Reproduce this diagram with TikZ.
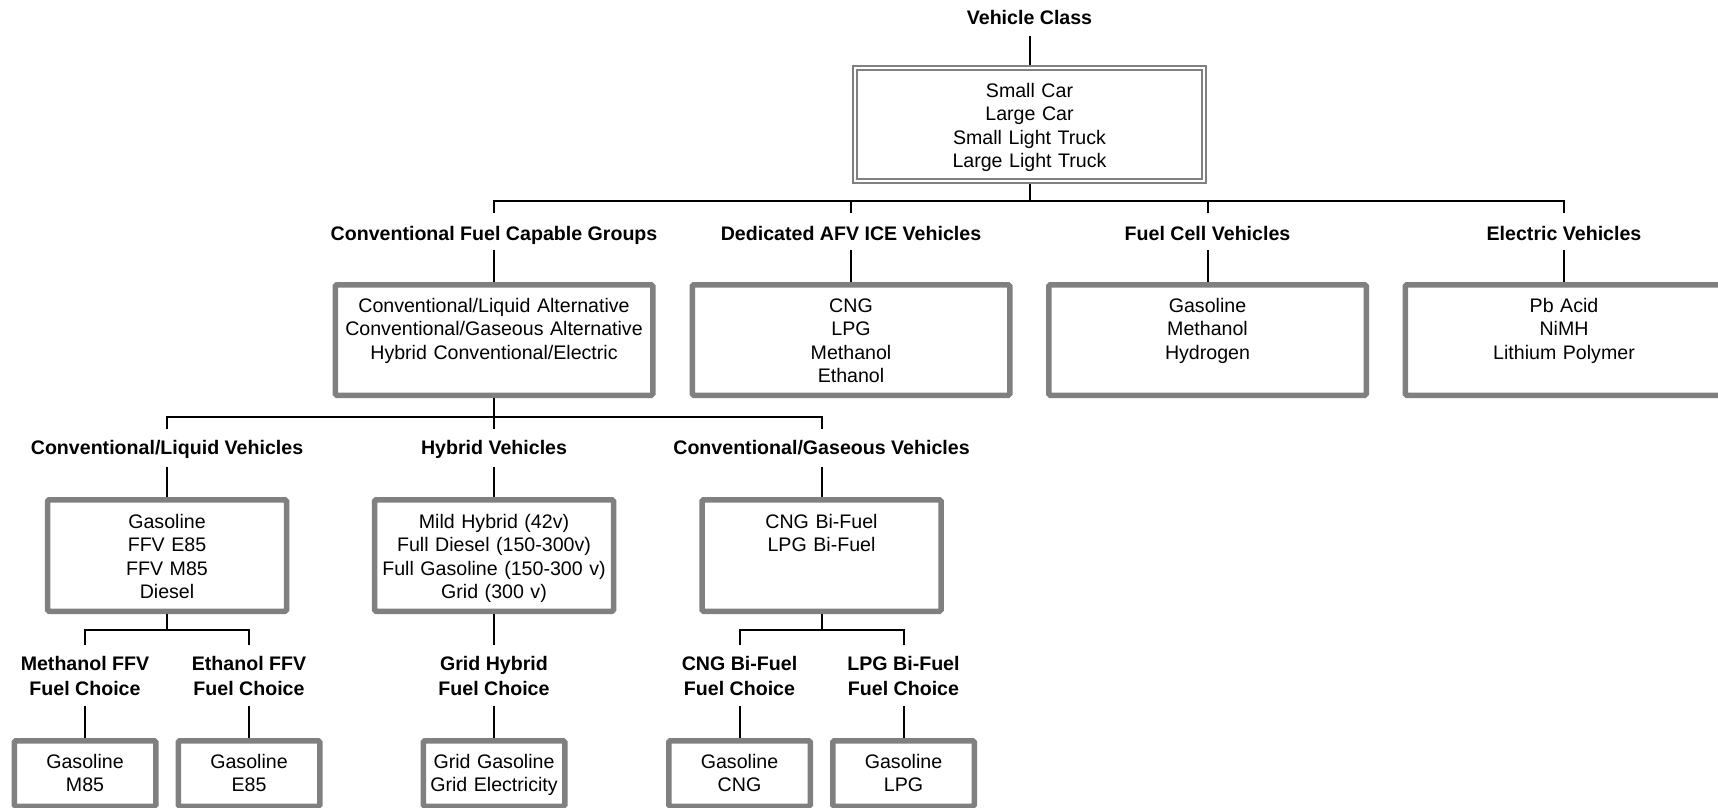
\documentclass[tikz,border=0pt]{standalone}
\usepackage{fontspec}
\setmainfont{Liberation Sans}
\definecolor{boxgray}{HTML}{808080}
\tikzset{
  conn/.style={line width=2pt, black},
  boxbase/.style={fill=white, inner sep=0pt, align=center, anchor=north,
    font=\fontsize{19.6}{23.6}\selectfont},
  box/.style={boxbase, draw=boxgray, line width=5.5pt, rounded corners=1.5pt, outer sep=2.75pt},
  topbox/.style={boxbase, draw=boxgray, line width=2pt, double=white, double distance=2pt, outer sep=3pt},
  bigbox/.style={box, text width=317.5pt, text height=27.25pt, text depth=83.25pt},
  midbox/.style={box, text width=239pt, text height=28.25pt, text depth=83.25pt},
  smallbox/.style={box, text width=141.5pt, text height=27.25pt, text depth=38.25pt},
  lab/.style={font=\bfseries\fontsize{19.6}{25}\selectfont, inner sep=0pt, outer sep=0pt, align=center, anchor=base},
  labA/.style={lab, text height=27pt, text depth=10pt},
  labB/.style={lab, text height=25pt, text depth=13pt},
  labC/.style={lab, text height=50pt, text depth=11pt},
}
\begin{document}
\begin{tikzpicture}[x=1pt, y=-1pt]
\useasboundingbox (0,0) rectangle (1718,807);

% top
\node[lab, text height=14pt, text depth=12pt] (vc) at (1029.5,24) {Vehicle Class};
\node[topbox, text width=349pt, text height=29pt, text depth=84pt] (top) at (1029.5,65)
  {Small Car\\Large Car\\Small Light Truck\\Large Light Truck};

% level 2
\node[labA] (l2a) at (494,240) {Conventional Fuel Capable Groups};
\node[labA] (l2b) at (851,240) {Dedicated AFV ICE Vehicles};
\node[labA] (l2c) at (1207.5,240) {Fuel Cell Vehicles};
\node[labA] (l2d) at (1564,240) {Electric Vehicles};

\node[bigbox] (b2a) at (494,282) {Conventional/Liquid Alternative\\Conventional/Gaseous Alternative\\Hybrid Conventional/Electric};
\node[bigbox] (b2b) at (851,282) {CNG\\LPG\\Methanol\\Ethanol};
\node[bigbox] (b2c) at (1207.5,282) {Gasoline\\Methanol\\Hydrogen};
\node[bigbox] (b2d) at (1564,282) {Pb Acid\\NiMH\\Lithium Polymer};

% level 3
\node[labB] (l3a) at (167,454) {Conventional/Liquid Vehicles};
\node[labB] (l3b) at (494,454) {Hybrid Vehicles};
\node[labB] (l3c) at (821.5,454) {Conventional/Gaseous Vehicles};

\node[midbox] (b3a) at (167,497) {Gasoline\\FFV E85\\FFV M85\\Diesel};
\node[midbox] (b3b) at (494,497) {Mild Hybrid (42v)\\Full Diesel (150-300v)\\Full Gasoline (150-300 v)\\Grid (300 v)};
\node[midbox] (b3c) at (821.5,497) {CNG Bi-Fuel\\LPG Bi-Fuel};

% level 4 (base = last line)
\node[labC] (l4a) at (85,695) {Methanol FFV\\Fuel Choice};
\node[labC] (l4b) at (249,695) {Ethanol FFV\\Fuel Choice};
\node[labC] (l4c) at (494,695) {Grid Hybrid\\Fuel Choice};
\node[labC] (l4d) at (739.5,695) {CNG Bi-Fuel\\Fuel Choice};
\node[labC] (l4e) at (903.5,695) {LPG Bi-Fuel\\Fuel Choice};

\node[smallbox] (b4a) at (85,738) {Gasoline\\M85};
\node[smallbox] (b4b) at (249,738) {Gasoline\\E85};
\node[smallbox] (b4c) at (494,738) {Grid Gasoline\\Grid Electricity};
\node[smallbox] (b4d) at (739.5,738) {Gasoline\\CNG};
\node[smallbox] (b4e) at (903.5,738) {Gasoline\\LPG};

% junctions
\coordinate (j1) at (1029.5,201);
\coordinate (j2) at (494,417);
\coordinate (j3) at (167,630);
\coordinate (j4) at (821.5,630);

% connectors
\draw[conn] (vc.south) -- (top.north);
\draw[conn] (top.south) -- (j1);
\draw[conn] (l2a.north) |- (j1) -| (l2d.north);
\draw[conn] (l2b.north) -- (l2b.north |- j1);
\draw[conn] (l2c.north) -- (l2c.north |- j1);
\foreach \s in {a,b,c,d} \draw[conn] (l2\s.south) -- (b2\s.north);

\draw[conn] (b2a.south) -- (j2);
\draw[conn] (l3a.north) |- (j2) -| (l3c.north);
\draw[conn] (l3b.north) -- (j2);
\foreach \s in {a,b,c} \draw[conn] (l3\s.south) -- (b3\s.north);

\draw[conn] (b3a.south) -- (j3);
\draw[conn] (l4a.north) |- (j3) -| (l4b.north);
\draw[conn] (b3b.south) -- (l4c.north);
\draw[conn] (b3c.south) -- (j4);
\draw[conn] (l4d.north) |- (j4) -| (l4e.north);
\foreach \s in {a,b,c,d,e} \draw[conn] (l4\s.south) -- (b4\s.north);
\end{tikzpicture}
\end{document}
